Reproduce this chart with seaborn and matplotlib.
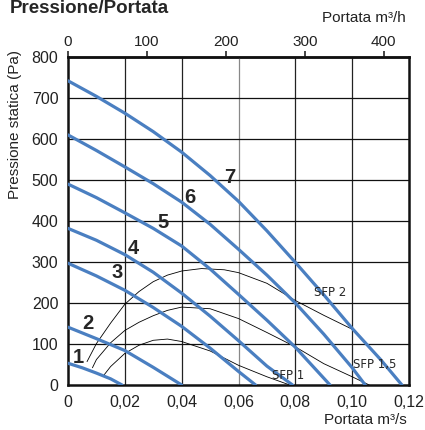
import numpy as np
import pandas as pd
import seaborn as sns
import matplotlib
matplotlib.use("Agg")
import matplotlib.pyplot as plt

# fan curves, flow m3/s -> static pressure Pa
fan_x = {
    "1": [0, 0.005, 0.01, 0.015, 0.019],
    "2": [0, 0.01, 0.02, 0.03, 0.04],
    "3": [0, 0.01, 0.02, 0.03, 0.04, 0.05, 0.06, 0.066],
    "4": [0, 0.01, 0.02, 0.03, 0.04, 0.05, 0.06, 0.07, 0.079],
    "5": [0, 0.01, 0.02, 0.03, 0.04, 0.05, 0.06, 0.07, 0.08, 0.0922],
    "6": [0, 0.01, 0.02, 0.03, 0.04, 0.05, 0.06, 0.07, 0.08, 0.09, 0.10, 0.1046],
    "7": [0, 0.01, 0.02, 0.03, 0.04, 0.05, 0.06, 0.07, 0.08, 0.09, 0.10, 0.11, 0.1175],
}
fan_y = {
    "1": [53, 42, 29, 15, 0],
    "2": [141, 113, 84, 43, 0],
    "3": [297, 266, 231, 189, 143, 90, 33, 0],
    "4": [382, 353, 318, 275, 224, 168, 108, 46, 0],
    "5": [490, 457, 420, 382, 339, 283, 221, 158, 92, 0],
    "6": [610, 572, 532, 491, 446, 392, 331, 268, 200, 124, 42, 0],
    "7": [742, 704, 663, 618, 568, 511, 448, 376, 299, 220, 138, 62, 0],
}
fan_label_x = {"1": 0.0035, "2": 0.007, "3": 0.0172, "4": 0.0229, "5": 0.0335, "6": 0.043, "7": 0.057}
fan_label_y = {"1": 66, "2": 151, "3": 274, "4": 332, "5": 396, "6": 457, "7": 505}

# SFP iso-lines
sfp_x = {
    "SFP 2": [0.0067, 0.01, 0.015, 0.02, 0.025, 0.03, 0.035, 0.04, 0.047, 0.055, 0.06, 0.07, 0.08, 0.09, 0.10],
    "SFP 1,5": [0.0086, 0.01, 0.015, 0.02, 0.025, 0.03, 0.035, 0.04, 0.05, 0.06, 0.07, 0.08, 0.09, 0.10, 0.106],
    "SFP 1": [0.0124, 0.015, 0.02, 0.025, 0.03, 0.035, 0.04, 0.05, 0.06, 0.07, 0.078],
}
sfp_y = {
    "SFP 2": [57, 101, 151, 197, 228, 252, 268, 278, 284, 281, 274, 248, 206, 170, 136],
    "SFP 1,5": [42, 62, 103, 133, 153, 169, 182, 190, 186, 162, 128, 93, 52, 20, 0],
    "SFP 1": [22, 45, 77, 97, 109, 112, 106, 83, 48, 20, 0],
}
sfp_label_x = {"SFP 2": 0.0922, "SFP 1,5": 0.108, "SFP 1": 0.0775}
sfp_label_y = {"SFP 2": 226, "SFP 1,5": 49, "SFP 1": 22}

x_ticks = [0, 0.02, 0.04, 0.06, 0.08, 0.10, 0.12]
x_tick_labels = ["0", "0,02", "0,04", "0,06", "0,08", "0,10", "0,12"]
y_ticks = [0, 100, 200, 300, 400, 500, 600, 700, 800]
top_ticks = [0, 100, 200, 300, 400]

blue = "#4a7fc1"

sns.set_style("white")
plt.rcParams["font.family"] = ["Liberation Sans", "DejaVu Sans"]

fig = plt.figure(figsize=(4.25, 4.30), dpi=100)
ax = fig.add_axes([0.16, 0.1047, 0.8024, 0.7627])

# grid
for xv in x_ticks[1:-1]:
    ax.axvline(xv, color="#888888" if xv == 0.06 else "#222222", lw=0.9, zorder=1)
for yv in y_ticks[1:-1]:
    ax.axhline(yv, color="#111111", lw=0.9, zorder=1)

for name in sfp_x:
    df = pd.DataFrame({"x": sfp_x[name], "y": sfp_y[name]})
    sns.lineplot(data=df, x="x", y="y", ax=ax, color="black", lw=0.6, sort=False, estimator=None, zorder=2)
    ax.text(sfp_label_x[name], sfp_label_y[name], name, fontsize=8.5, ha="center", va="center",
            family=["DejaVu Sans"], zorder=4)

for name in fan_x:
    df = pd.DataFrame({"x": fan_x[name], "y": fan_y[name]})
    sns.lineplot(data=df, x="x", y="y", ax=ax, color=blue, lw=2.3, sort=False, estimator=None, zorder=3)
    ax.text(fan_label_x[name], fan_label_y[name], name, fontsize=14.5, fontweight="bold",
            ha="center", va="center", zorder=4)

ax.set_xlim(0, 0.12)
ax.set_ylim(0, 800)
ax.set_xticks(x_ticks)
ax.set_xticklabels(x_tick_labels)
ax.set_yticks(y_ticks)
ax.set_xlabel("")
ax.set_ylabel("")
ax.tick_params(axis="both", direction="out", length=4, width=1.2, labelsize=11.5, pad=3,
               color="black", labelcolor="#222222")
for sp in ax.spines.values():
    sp.set_linewidth(1.8)
    sp.set_color("#111111")

top = ax.secondary_xaxis("top", functions=(lambda v: v * 3600, lambda v: v / 3600))
top.set_xticks(top_ticks)
top.tick_params(direction="out", length=4, width=1.2, labelsize=11, pad=2, labelcolor="#222222")
top.spines["top"].set_linewidth(1.8)

fig.text(0.955, 0.958, "Portata m³/h", ha="right", va="center", fontsize=11, color="#222222")
fig.text(0.958, 0.024, "Portata m³/s", ha="right", va="center", fontsize=11, color="#222222")
fig.text(0.035, 0.884, "Pressione statica (Pa)", rotation=90, ha="center", va="top", fontsize=11,
         color="#222222")
fig.text(0.024, 0.999, "Pressione/Portata", ha="left", va="top", fontsize=13.5, fontweight="bold")

fig.savefig("out.png", dpi=100)
